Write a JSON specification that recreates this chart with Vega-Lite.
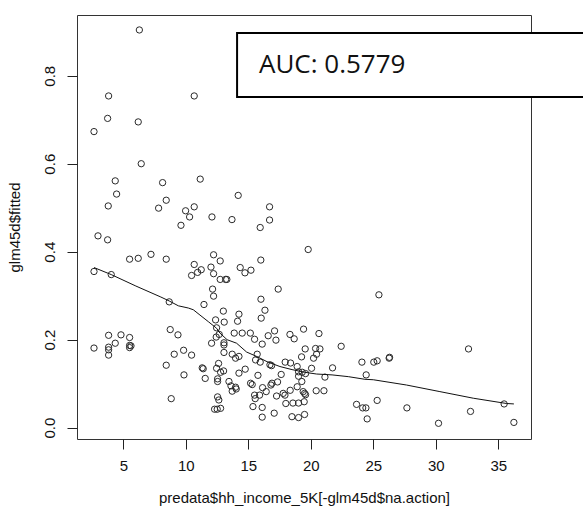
{
  "$schema": "https://vega.github.io/schema/vega-lite/v6.json",
  "width": 454,
  "height": 424,
  "autosize": {"type": "none"},
  "padding": {"left": 77, "top": 15, "right": 52, "bottom": 86},
  "background": "white",
  "config": {
    "font": "Liberation Sans",
    "view": {"stroke": "#333", "strokeWidth": 1},
    "axis": {"grid": false, "domain": false, "tickColor": "#222", "tickSize": 10, "labelColor": "#111", "titleColor": "#111", "labelFontSize": 15, "titleFontSize": 15, "titleFontWeight": "normal", "labelFont": "Liberation Sans", "titleFont": "Liberation Sans"}
  },
  "datasets": {
    "pts": [
      {"x":6.28,"y":0.904},{"x":3.82,"y":0.754},{"x":10.67,"y":0.754},{"x":3.74,"y":0.703},{"x":6.19,"y":0.695},
      {"x":2.65,"y":0.673},{"x":6.43,"y":0.600},{"x":4.35,"y":0.561},{"x":8.14,"y":0.557},{"x":11.15,"y":0.565},
      {"x":4.46,"y":0.531},{"x":14.19,"y":0.528},{"x":3.79,"y":0.504},{"x":8.43,"y":0.517},{"x":7.82,"y":0.499},
      {"x":9.98,"y":0.493},{"x":10.67,"y":0.502},{"x":10.30,"y":0.479},{"x":12.09,"y":0.479},{"x":13.69,"y":0.473},
      {"x":9.61,"y":0.460},{"x":16.70,"y":0.502},{"x":15.95,"y":0.455},{"x":16.70,"y":0.472},{"x":2.97,"y":0.436},
      {"x":3.74,"y":0.427},{"x":7.21,"y":0.394},{"x":5.50,"y":0.383},{"x":6.19,"y":0.385},{"x":8.43,"y":0.383},
      {"x":12.22,"y":0.393},{"x":12.75,"y":0.379},{"x":10.67,"y":0.371},{"x":12.01,"y":0.365},{"x":11.23,"y":0.359},
      {"x":10.94,"y":0.353},{"x":10.46,"y":0.346},{"x":12.22,"y":0.350},{"x":12.75,"y":0.337},{"x":13.18,"y":0.337},
      {"x":13.28,"y":0.337},{"x":14.35,"y":0.364},{"x":14.73,"y":0.352},{"x":15.21,"y":0.358},{"x":16.0,"y":0.381},
      {"x":19.79,"y":0.405},{"x":2.65,"y":0.355},{"x":4.03,"y":0.348},{"x":12.14,"y":0.315},{"x":12.22,"y":0.299},
      {"x":8.67,"y":0.286},{"x":11.45,"y":0.280},{"x":13.0,"y":0.265},{"x":14.25,"y":0.258},{"x":16.01,"y":0.292},
      {"x":16.33,"y":0.267},{"x":17.39,"y":0.315},{"x":12.38,"y":0.245},{"x":13.07,"y":0.240},{"x":14.14,"y":0.242},
      {"x":16.03,"y":0.249},{"x":8.75,"y":0.223},{"x":9.37,"y":0.211},{"x":12.46,"y":0.227},{"x":12.67,"y":0.212},
      {"x":12.43,"y":0.206},{"x":13.87,"y":0.215},{"x":14.51,"y":0.215},{"x":15.16,"y":0.215},{"x":15.5,"y":0.201},
      {"x":16.59,"y":0.209},{"x":17.1,"y":0.220},{"x":17.21,"y":0.199},{"x":18.33,"y":0.212},{"x":18.67,"y":0.202},
      {"x":19.42,"y":0.224},{"x":20.65,"y":0.214},{"x":16.11,"y":0.190},{"x":3.82,"y":0.210},{"x":4.81,"y":0.211},
      {"x":5.50,"y":0.205},{"x":4.35,"y":0.192},{"x":2.65,"y":0.181},{"x":3.82,"y":0.183},{"x":3.82,"y":0.177},
      {"x":3.82,"y":0.165},{"x":5.50,"y":0.187},{"x":5.61,"y":0.186},{"x":5.50,"y":0.182},{"x":12.06,"y":0.192},
      {"x":13.05,"y":0.193},{"x":13.05,"y":0.188},{"x":13.05,"y":0.171},{"x":9.07,"y":0.167},{"x":9.82,"y":0.176},
      {"x":10.46,"y":0.165},{"x":13.71,"y":0.167},{"x":13.98,"y":0.158},{"x":14.25,"y":0.162},{"x":8.43,"y":0.142},
      {"x":9.85,"y":0.120},{"x":11.31,"y":0.136},{"x":11.39,"y":0.134},{"x":11.55,"y":0.112},{"x":12.62,"y":0.146},
      {"x":12.46,"y":0.135},{"x":12.78,"y":0.126},{"x":13.02,"y":0.129},{"x":12.54,"y":0.111},{"x":12.54,"y":0.105},
      {"x":13.45,"y":0.105},{"x":13.61,"y":0.095},{"x":13.98,"y":0.092},{"x":13.71,"y":0.083},{"x":14.03,"y":0.088},
      {"x":14.25,"y":0.124},{"x":14.75,"y":0.133},{"x":8.83,"y":0.066},{"x":12.54,"y":0.070},{"x":12.64,"y":0.063},
      {"x":12.3,"y":0.042},{"x":12.51,"y":0.042},{"x":12.78,"y":0.044},{"x":15.71,"y":0.167},{"x":15.95,"y":0.149},
      {"x":15.58,"y":0.154},{"x":16.73,"y":0.143},{"x":16.86,"y":0.141},{"x":15.77,"y":0.119},{"x":17.63,"y":0.121},
      {"x":15.18,"y":0.101},{"x":15.31,"y":0.098},{"x":16.14,"y":0.091},{"x":15.9,"y":0.074},{"x":16.43,"y":0.082},
      {"x":15.5,"y":0.074},{"x":15.55,"y":0.066},{"x":16.89,"y":0.101},{"x":16.81,"y":0.097},{"x":17.34,"y":0.104},
      {"x":17.26,"y":0.072},{"x":17.79,"y":0.078},{"x":17.93,"y":0.074},{"x":15.37,"y":0.048},{"x":16.11,"y":0.046},
      {"x":16.11,"y":0.024},{"x":17.07,"y":0.033},{"x":18.0,"y":0.055},{"x":18.57,"y":0.056},{"x":19.02,"y":0.056},
      {"x":19.47,"y":0.059},{"x":19.39,"y":0.082},{"x":19.5,"y":0.078},{"x":19.58,"y":0.075},{"x":18.49,"y":0.025},
      {"x":19.02,"y":0.023},{"x":19.5,"y":0.030},{"x":18.35,"y":0.085},{"x":18.91,"y":0.093},{"x":19.28,"y":0.105},
      {"x":19.02,"y":0.117},{"x":19.55,"y":0.179},{"x":19.26,"y":0.161},{"x":18.91,"y":0.139},{"x":19.02,"y":0.127},
      {"x":19.31,"y":0.126},{"x":19.58,"y":0.123},{"x":20.06,"y":0.135},{"x":20.22,"y":0.158},{"x":20.46,"y":0.167},
      {"x":20.38,"y":0.180},{"x":20.73,"y":0.179},{"x":17.95,"y":0.149},{"x":18.38,"y":0.147},{"x":20.43,"y":0.084},
      {"x":21.05,"y":0.084},{"x":21.13,"y":0.115},{"x":21.74,"y":0.136},{"x":22.43,"y":0.185},{"x":23.66,"y":0.053},
      {"x":24.15,"y":0.045},{"x":24.41,"y":0.045},{"x":24.09,"y":0.149},{"x":25.45,"y":0.302},{"x":25.04,"y":0.149},
      {"x":25.31,"y":0.152},{"x":26.27,"y":0.158},{"x":26.3,"y":0.160},{"x":24.43,"y":0.120},{"x":32.62,"y":0.179},
      {"x":25.31,"y":0.062},{"x":24.51,"y":0.020},{"x":27.69,"y":0.045},{"x":30.22,"y":0.010},{"x":32.78,"y":0.037},
      {"x":35.47,"y":0.054},{"x":36.25,"y":0.012}
    ],
    "fit": [
      {"x":2.65,"y":0.364},{"x":4.03,"y":0.348},{"x":6.0,"y":0.322},{"x":8.0,"y":0.297},{"x":8.67,"y":0.288},
      {"x":9.4,"y":0.277},{"x":10.2,"y":0.272},{"x":10.6,"y":0.268},{"x":11.13,"y":0.256},{"x":11.8,"y":0.241},
      {"x":12.46,"y":0.226},{"x":12.73,"y":0.215},{"x":13.3,"y":0.200},{"x":14.06,"y":0.192},{"x":14.86,"y":0.172},
      {"x":15.66,"y":0.162},{"x":16.5,"y":0.150},{"x":17.53,"y":0.139},{"x":18.5,"y":0.132},{"x":19.5,"y":0.126},
      {"x":20.46,"y":0.122},{"x":21.7,"y":0.120},{"x":23.0,"y":0.116},{"x":24.33,"y":0.110},{"x":25.0,"y":0.109},
      {"x":27.66,"y":0.097},{"x":30.33,"y":0.082},{"x":33.0,"y":0.067},{"x":35.66,"y":0.055},{"x":36.25,"y":0.054}
    ],
    "box": [{"x":14.1,"x2":43,"y":0.7516,"y2":0.897,"label":"AUC: 0.5779","tx":15.85,"ty":0.806}]
  },
  "layer": [
    {
      "data": {"name": "pts"},
      "mark": {"type": "point", "shape": "circle", "filled": false, "stroke": "#2a2a2a", "strokeWidth": 1, "size": 40, "opacity": 1},
      "encoding": {
        "x": {"field": "x", "type": "quantitative", "scale": {"domain": [1.29, 37.62], "nice": false, "zero": false},
              "axis": {"values": [5,10,15,20,25,30,35], "title": "predata$hh_income_5K[-glm45d$na.action]", "labelPadding": 9, "titlePadding": 17}},
        "y": {"field": "y", "type": "quantitative", "scale": {"domain": [-0.0257, 0.938], "nice": false, "zero": false},
              "axis": {"values": [0,0.2,0.4,0.6,0.8], "format": ".1f", "labelAngle": -90, "labelAlign": "center", "labelBaseline": "bottom", "labelPadding": 10, "title": "glm45d$fitted", "titlePadding": 20}}
      }
    },
    {
      "data": {"name": "fit"},
      "mark": {"type": "line", "stroke": "#111", "strokeWidth": 1},
      "encoding": {
        "x": {"field": "x", "type": "quantitative"},
        "y": {"field": "y", "type": "quantitative"}
      }
    },
    {
      "data": {"name": "box"},
      "mark": {"type": "rect", "fill": "white", "stroke": "black", "strokeWidth": 2},
      "encoding": {
        "x": {"field": "x", "type": "quantitative"},
        "x2": {"field": "x2"},
        "y": {"field": "y", "type": "quantitative"},
        "y2": {"field": "y2"}
      }
    },
    {
      "data": {"name": "box"},
      "mark": {"type": "text", "font": "Open Sans", "fontSize": 26, "align": "left", "baseline": "alphabetic", "color": "#111"},
      "encoding": {
        "x": {"field": "tx", "type": "quantitative"},
        "y": {"field": "ty", "type": "quantitative"},
        "text": {"field": "label"}
      }
    }
  ]
}
